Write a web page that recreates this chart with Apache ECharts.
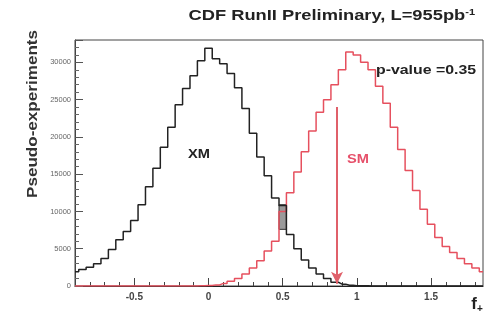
<!DOCTYPE html>
<html>
<head>
<meta charset="utf-8">
<script src="https://cdn.jsdelivr.net/npm/echarts@6/dist/echarts.min.js"></script>
<style>
  html, body { margin: 0; padding: 0; background: #fff; }
  #chart { width: 494px; height: 323px; }
</style>
</head>
<body>
<div id="chart"></div>
<script>
// histogram bins, width 0.05, centres from -0.9 to 1.85
const binWidth = 0.05
const binCenters = Array.from({ length: 56 }, (_, i) => +(-0.9 + binWidth * i).toFixed(2))

// XM pseudo-experiments (black)
const xmCounts = [
  1900, 2200, 2500, 3000, 3700, 4900, 6200, 7300, 8800, 10900,
  13300, 15800, 18600, 21300, 24300, 26500, 28200, 30200, 31900, 30500,
  29800, 28500, 26600, 23800, 20500, 17300, 14800, 11800, 10800, 6900,
  5000, 3500, 2400, 1600, 1000, 500, 250, 100, 50, 20,
  0, 0, 0, 0, 0, 0, 0, 0, 0, 0,
  0, 0, 0, 0, 0, 0
]
// SM pseudo-experiments (red)
const smCounts = [
  0, 0, 0, 0, 0, 0, 0, 0, 0, 0,
  0, 0, 0, 0, 0, 0, 10, 30, 60, 150,
  350, 650, 1000, 1600, 2400, 3400, 4700, 6000, 10000, 12500,
  15300, 18000, 20800, 23300, 25000, 27000, 29000, 31400, 31000, 30000,
  29000, 26800, 24500, 21300, 18300, 15500, 12800, 10300, 8300, 6500,
  5300, 4500, 3700, 3000, 2400, 1900
]
// observed value (arrow)
const observedF = 0.866
const arrowTop = 24000
const arrowBottom = 300
// glitch box near 0.5 on the XM histogram
const glitchBox = [[0.475, 7600], [0.525, 10900]]

const xMajor = [-0.5, 0, 0.5, 1, 1.5]
const yTickStep = 5000

const xmData = binCenters.map((x, i) => [x, xmCounts[i]])
const smData = binCenters.map((x, i) => [x, smCounts[i]])

// text in the original is a bit wider than the fonts here
const stretch = 1.22

let mycharts = echarts.init(document.getElementById('chart'))
mycharts.setOption({
  animation: false,
  backgroundColor: '#fff',
  grid: {
    left: 75,
    top: 40,
    right: 11,
    bottom: 37,
    show: true,
    borderColor: '#444',
    borderWidth: 1
  },
  xAxis: [
    {
      type: 'value',
      min: -0.9,
      max: 1.85,
      interval: 0.1,
      splitLine: { show: false },
      axisLine: { lineStyle: { color: '#222', width: 1.2 } },
      axisTick: { inside: true, length: 4, lineStyle: { color: '#444' } },
      axisLabel: {
        color: '#444',
        fontSize: 10,
        fontWeight: 'bold',
        fontFamily: 'Liberation Sans',
        margin: 6,
        showMinLabel: false,
        showMaxLabel: false,
        formatter: v => (xMajor.some(m => Math.abs(m - v) < 1e-6) ? String(Math.round(v * 10) / 10) : '')
      }
    },
    {
      type: 'value',
      position: 'bottom',
      min: -0.9,
      max: 1.85,
      splitLine: { show: false },
      axisLine: { show: false },
      axisTick: { inside: true, length: 8, customValues: xMajor, lineStyle: { color: '#444' } },
      axisLabel: { show: false }
    }
  ],
  yAxis: {
    type: 'value',
    min: 0,
    max: 33000,
    interval: yTickStep,
    splitLine: { show: false },
    axisLine: { show: true, onZero: false, lineStyle: { color: '#444' } },
    axisTick: { show: true, inside: true, length: 8, lineStyle: { color: '#555' } },
    minorTick: { show: true, splitNumber: 5, length: 4, lineStyle: { color: '#666' } },
    axisLabel: {
      color: '#666',
      fontSize: 7.5,
      fontFamily: 'Liberation Sans',
      margin: 4,
      showMaxLabel: false,
      formatter: v => (v % yTickStep === 0 ? String(v) : '')
    }
  },
  series: [
    {
      name: 'SM',
      type: 'line',
      step: 'middle',
      data: smData,
      showSymbol: false,
      lineStyle: { color: '#e6505e', width: 1.5 },
      markLine: {
        silent: true,
        symbol: ['none', 'arrow'],
        symbolSize: [9, 12],
        label: { show: false },
        lineStyle: { color: '#e0606a', width: 2, type: 'solid' },
        data: [[{ coord: [observedF, arrowTop] }, { coord: [observedF, arrowBottom] }]]
      }
    },
    {
      name: 'XM',
      type: 'line',
      step: 'middle',
      data: xmData,
      showSymbol: false,
      lineStyle: { color: '#222', width: 1.5 },
      markArea: {
        silent: true,
        itemStyle: { color: '#9a9a9a', borderColor: '#333', borderWidth: 1 },
        data: [[{ coord: glitchBox[0] }, { coord: glitchBox[1] }]]
      }
    }
  ],
  graphic: [
    {
      type: 'text',
      x: 475, y: 16,
      scaleX: stretch,
      style: {
        text: '{a|CDF RunII Preliminary, L=955pb}{s|-1}',
        align: 'right', verticalAlign: 'middle',
        rich: {
          a: { fontFamily: 'Liberation Sans', fontWeight: 'bold', fontSize: 15, fill: '#222' },
          s: { fontFamily: 'Liberation Sans', fontWeight: 'bold', fontSize: 9, fill: '#222', padding: [0, 0, 7, 0] }
        }
      }
    },
    {
      type: 'text',
      x: 33, y: 114,
      rotation: Math.PI / 2,
      scaleX: stretch,
      style: {
        text: 'Pseudo-experiments',
        fontFamily: 'Liberation Sans', fontWeight: 'bold', fontSize: 14,
        fill: '#333', align: 'center', verticalAlign: 'middle'
      }
    },
    {
      type: 'text',
      x: 477, y: 304,
      style: {
        text: '{f|f}{s|+}',
        align: 'center', verticalAlign: 'middle',
        rich: {
          f: { fontFamily: 'Liberation Sans', fontWeight: 'bold', fontSize: 17, fill: '#222' },
          s: { fontFamily: 'Liberation Sans', fontWeight: 'bold', fontSize: 10, fill: '#222', padding: [10, 0, 0, 0] }
        }
      }
    },
    {
      type: 'text',
      x: 199, y: 155,
      scaleX: stretch,
      style: {
        text: 'XM', fontFamily: 'Liberation Sans', fontWeight: 'bold', fontSize: 12,
        fill: '#222', align: 'center', verticalAlign: 'middle'
      }
    },
    {
      type: 'text',
      x: 358, y: 160,
      scaleX: stretch,
      style: {
        text: 'SM', fontFamily: 'Liberation Sans', fontWeight: 'bold', fontSize: 12,
        fill: '#e6506a', align: 'center', verticalAlign: 'middle'
      }
    },
    {
      type: 'text',
      x: 426, y: 70,
      scaleX: stretch,
      style: {
        text: 'p-value =0.35', fontFamily: 'Liberation Sans', fontWeight: 'bold', fontSize: 13,
        fill: '#222', align: 'center', verticalAlign: 'middle'
      }
    }
  ]
})
</script>
</body>
</html>
